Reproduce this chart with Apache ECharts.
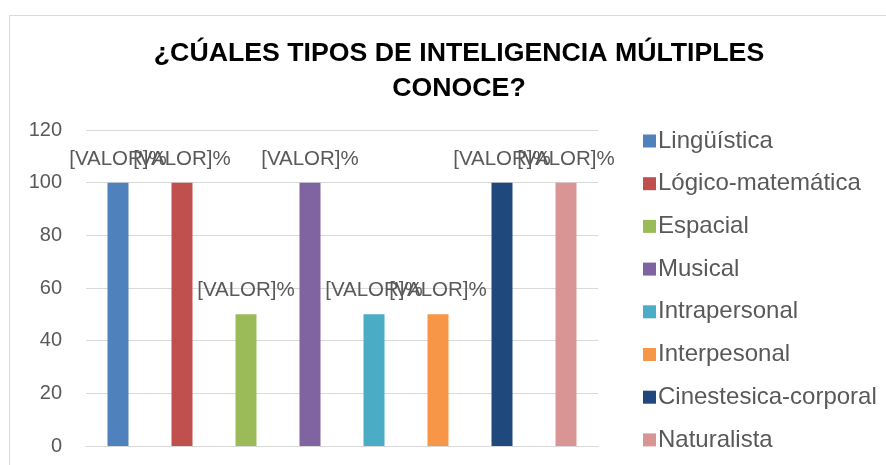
<!DOCTYPE html>
<html>
<head>
<meta charset="utf-8">
<script src="https://cdn.jsdelivr.net/npm/echarts@6/dist/echarts.min.js"></script>
<style>
  html, body { margin: 0; padding: 0; background: #fff; }
  #main { width: 886px; height: 465px; }
</style>
</head>
<body>
<div id="main"></div>
<script>
// datos del grafico
var tipos = ['Lingüística', 'Lógico-matemática', 'Espacial', 'Musical', 'Intrapersonal', 'Interpesonal', 'Cinestesica-corporal', 'Naturalista']
var valores = [100, 100, 50, 100, 50, 50, 100, 100]
var colores = ['#4F81BD', '#C0504D', '#9BBB59', '#8064A2', '#4BACC6', '#F79646', '#1F497D', '#D99594']
var ejeY = { min: 0, max: 120, interval: 20 }

var myChart = echarts.init(document.getElementById('main'))

// una serie por tipo, cada una en su propia columna
var series = tipos.map(function (nombre, i) {
  var data = valores.map(function (v, j) { return j === i ? v : '-' })
  return {
    name: nombre,
    type: 'bar',
    barWidth: 21,
    barGap: '-100%',
    itemStyle: { color: colores[i] },
    label: {
      show: true,
      position: 'top',
      distance: 13,
      formatter: '[VALOR]%',
      fontFamily: 'Liberation Sans',
      fontSize: 20.5,
      color: '#595959'
    },
    data: data
  }
})

var option = {
  animation: false,
  graphic: [{
    type: 'rect',
    shape: { x: 9.5, y: 15.5, width: 900, height: 500 },
    style: { fill: 'none', stroke: '#d9d9d9', lineWidth: 1 },
    silent: true
  }],
  title: {
    text: '¿CÚALES TIPOS DE INTELIGENCIA MÚLTIPLES\nCONOCE?',
    left: 454,
    textAlign: 'center',
    top: 31,
    textStyle: {
      fontFamily: 'Liberation Sans',
      fontWeight: 'bold',
      fontSize: 26.7,
      lineHeight: 35,
      color: '#000'
    }
  },
  legend: {
    orient: 'vertical',
    left: 638,
    top: 124,
    height: 340,
    itemWidth: 13,
    itemHeight: 13,
    itemGap: 18.7,
    icon: 'rect',
    textStyle: {
      fontFamily: 'Liberation Sans',
      fontSize: 24,
      lineHeight: 22,
      color: '#595959',
      padding: [0, 0, 0, -3]
    },
    data: tipos
  },
  grid: {
    left: 86,
    right: 288,
    top: 130,
    bottom: 19
  },
  xAxis: {
    type: 'category',
    data: tipos,
    axisLine: { lineStyle: { color: '#d9d9d9' } },
    axisTick: { show: false },
    axisLabel: { show: false }
  },
  yAxis: {
    type: 'value',
    min: ejeY.min,
    max: ejeY.max,
    interval: ejeY.interval,
    axisLine: { show: false },
    axisTick: { show: false },
    axisLabel: {
      margin: 24,
      fontFamily: 'Liberation Sans',
      fontSize: 20,
      color: '#595959'
    },
    splitLine: { lineStyle: { color: '#d9d9d9' } }
  },
  series: series
}

myChart.setOption(option)
</script>
</body>
</html>
